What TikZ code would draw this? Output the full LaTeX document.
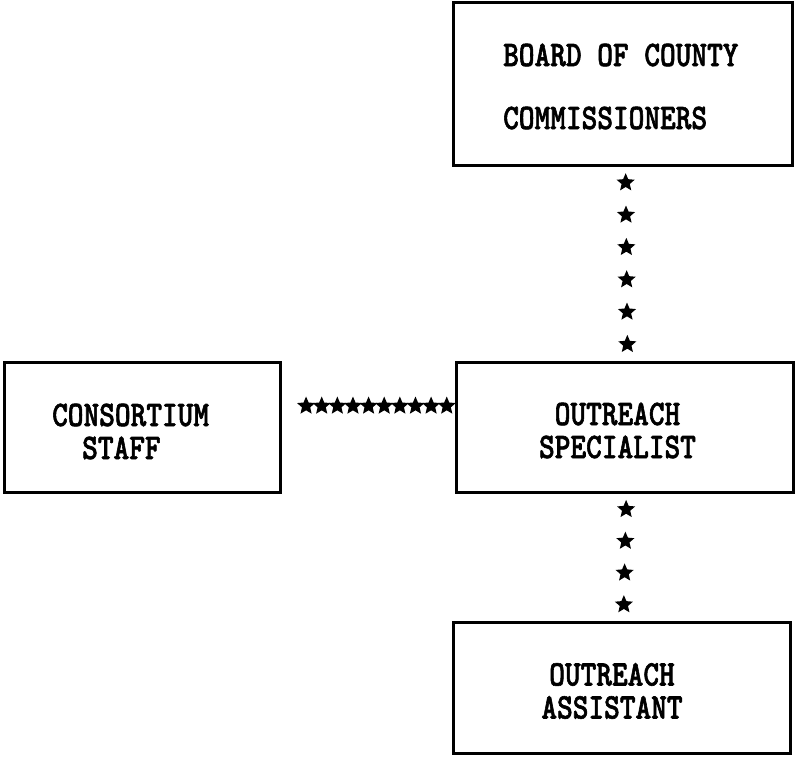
\documentclass[tikz,border=0pt]{standalone}
\usepackage{fontspec}
\usetikzlibrary{shapes.geometric,calc}
\newfontfamily\typefont{lmmonolt10-bold.otf}[FakeStretch=0.83,FakeBold=1.6]
\tikzstyle{box}=[rectangle, draw, line width=3pt, inner sep=0pt]
\tikzstyle{caption}=[inner sep=0pt, font={\typefont\fontsize{36}{33}\selectfont}]
\tikzstyle{starmark}=[star, star points=5, star point ratio=2.2, fill=black, inner sep=0pt, minimum size=19pt]

\begin{document}
\begin{tikzpicture}[x=1pt, y=-1pt]
    \useasboundingbox (0,0) rectangle (796,756);
    % the four boxes
    \node[box, minimum width=339pt, minimum height=163pt] (board) at (622.5,83.5) {};
    \node[box, minimum width=276pt, minimum height=130pt] (cons) at (142,427) {};
    \node[box, minimum width=337pt, minimum height=130pt] (spec) at (624.5,427) {};
    \node[box, minimum width=337pt, minimum height=131pt] (assist) at (621.5,687.5) {};

    % captions
    \node[caption, align=left, anchor=west, font={\typefont\fontsize{36}{63}\selectfont}] (boardText) at (503,86.5) {BOARD OF COUNTY\\COMMISSIONERS};
    \node[caption, align=left, anchor=west] (consText) at (52,431.5) {CONSORTIUM\\\hspace*{30pt}STAFF};
    \node[caption, align=center] (specText) at (617.5,430.5) {OUTREACH\\SPECIALIST};
    \node[caption, align=center] (assistText) at (612,691) {OUTREACH\\ASSISTANT};

    % star links, using loops
    \foreach \i in {1,...,6}{
      \node[starmark] (up\i) at ($(board.south)!{(\i-0.5)/6}!(spec.north) + (3,0)$) {};
    }
    \foreach \i in {0,...,9}{
      \node[starmark] (side\i) at ($(cons.east)!{(25+15.9*\i)/176}!(spec.west) + (0,-21)$) {};
    }
    \foreach \i in {1,...,4}{
      \node[starmark] (down\i) at ($(spec.south)!{(\i-0.5)/4}!(assist.north) + (2,0)$) {};
    }
\end{tikzpicture}
\end{document}
